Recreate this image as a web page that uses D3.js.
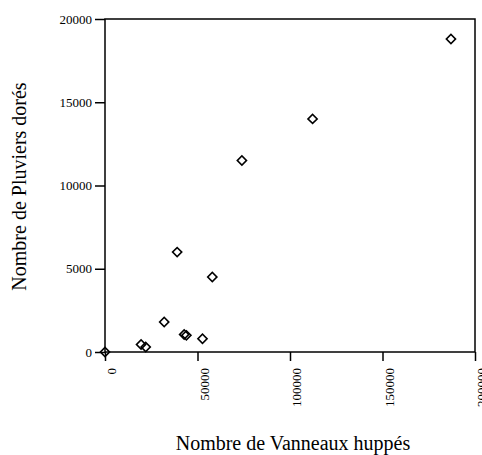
<!DOCTYPE html>
<html>
<head>
<meta charset="utf-8">
<script src="https://cdn.jsdelivr.net/npm/d3@7"></script>
<style>
  body { margin: 0; background: #fff; }
  text { font-family: "Liberation Serif", "DejaVu Serif", serif; fill: #000; }
</style>
</head>
<body>
<div id="chart"></div>
<script>
// Vanneaux huppés (x) vs Pluviers dorés (y)
var vanneaux = [0, 19500, 22000, 32000, 39000, 58000, 42800, 44000, 52700, 74000, 112200, 187000];
var pluviers = [0, 450, 300, 1800, 6000, 4500, 1050, 1000, 800, 11500, 14000, 18800];
var xTicks = [0, 50000, 100000, 150000, 200000];
var yTicks = [0, 5000, 10000, 15000, 20000];

var total_width = 482, total_height = 455;
var margin = {top: 19, right: 7, bottom: 103, left: 105},
    width = total_width - margin.left - margin.right,
    height = total_height - margin.top - margin.bottom;

var svg = d3.select("#chart").append("svg")
    .attr("width", total_width)
    .attr("height", total_height)
  .append("g")
    .attr("transform", "translate(" + margin.left + "," + margin.top + ")");

var x = d3.scaleLinear().domain([0, 200000]).range([0, width]);
var y = d3.scaleLinear().domain([0, 20000]).range([height, 0]);

// box
svg.append("rect")
    .attr("width", width)
    .attr("height", height)
    .attr("fill", "none")
    .attr("stroke", "#000")
    .attr("stroke-width", 1.5);

// x axis
var xAxis = svg.append("g")
    .attr("transform", "translate(0," + height + ")")
    .call(d3.axisBottom(x).tickValues(xTicks).tickSize(9).tickFormat(d3.format("d")))
    .attr("font-family", "Liberation Serif")
    .attr("font-size", 13);
xAxis.select(".domain").remove();
xAxis.selectAll("line").attr("stroke", "#000").attr("stroke-width", 1.5);
xAxis.selectAll(".tick text")
    .attr("text-anchor", "end")
    .attr("x", -16)
    .attr("y", 0)
    .attr("dy", "0.35em")
    .attr("transform", "translate(6,0) rotate(-90)");

// y axis
var yAxis = svg.append("g")
    .call(d3.axisLeft(y).tickValues(yTicks).tickSize(10).tickPadding(3).tickFormat(d3.format("d")))
    .attr("font-family", "Liberation Serif")
    .attr("font-size", 13);
yAxis.select(".domain").remove();
yAxis.selectAll("line").attr("stroke", "#000").attr("stroke-width", 1.5);

// titles
svg.append("text")
    .attr("x", width / 2 + 3)
    .attr("y", height + 98)
    .attr("text-anchor", "middle")
    .attr("font-size", 20)
    .text("Nombre de Vanneaux huppés");

svg.append("text")
    .attr("transform", "translate(" + (-79) + "," + (height / 2 + 1) + ") rotate(-90)")
    .attr("text-anchor", "middle")
    .attr("font-size", 20)
    .text("Nombre de Pluviers dorés");

// points (diamonds)
var diamond = d3.symbol().type(d3.symbolSquare).size(42);
svg.append("g")
  .selectAll("path")
  .data(vanneaux.map(function(v, i) { return {x: v, y: pluviers[i]}; }))
  .enter()
  .append("path")
    .attr("d", diamond)
    .attr("transform", function(d) { return "translate(" + x(d.x) + "," + y(d.y) + ") rotate(45)"; })
    .attr("fill", "none")
    .attr("stroke", "#000")
    .attr("stroke-width", 1.6);
</script>
</body>
</html>
